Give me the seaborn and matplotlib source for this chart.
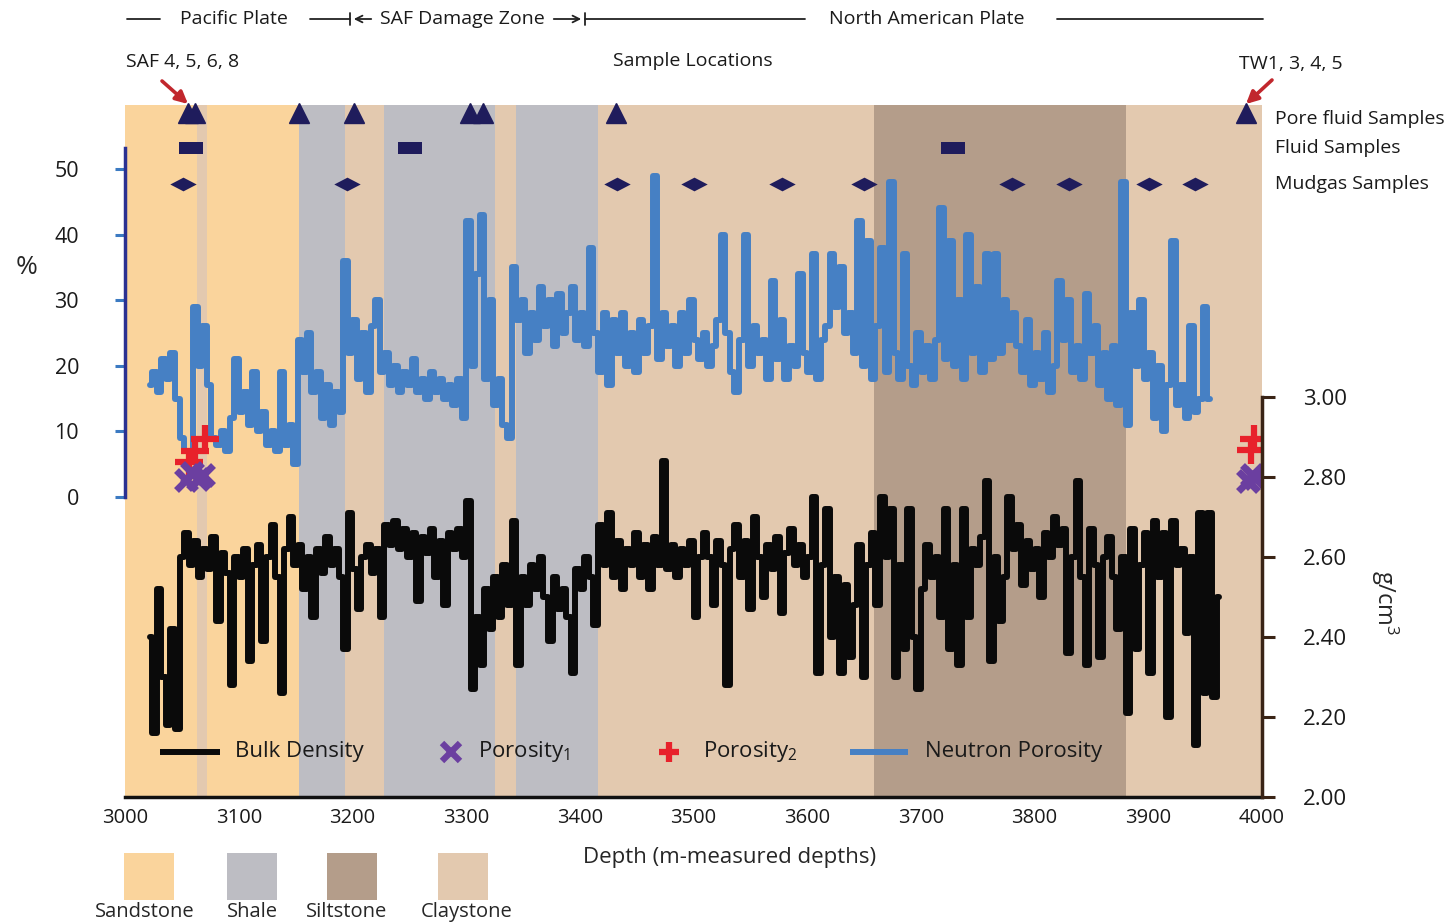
import numpy as np
import matplotlib
matplotlib.use("Agg")
import matplotlib.pyplot as plt
import matplotlib.transforms as mtransforms
from matplotlib.patches import Rectangle
from matplotlib.lines import Line2D
import seaborn as sns

sns.set_theme(style="white")
plt.rcParams['font.family'] = ['Open Sans', 'DejaVu Sans']
plt.rcParams['mathtext.fontset'] = 'custom'
plt.rcParams['mathtext.rm'] = 'Open Sans'
plt.rcParams['mathtext.it'] = 'Open Sans:italic'

# ---------------- data ----------------
litho_start = [3000, 3063, 3072, 3153, 3193.5, 3228, 3325, 3344, 3416, 3659, 3880]
litho_end = [3063, 3072, 3153, 3193.5, 3228, 3325, 3344, 3416, 3659, 3880, 4000]
litho_type = ["Sandstone", "Claystone", "Sandstone", "Shale", "Claystone", "Shale",
              "Claystone", "Shale", "Claystone", "Siltstone", "Claystone"]
litho_names = ["Sandstone", "Shale", "Siltstone", "Claystone"]
litho_colors = {"Sandstone": "#FAD49C", "Shale": "#BDBDC3",
                "Siltstone": "#B49D8A", "Claystone": "#E3C9AF"}

neutron_start, neutron_step = 3022, 4
neutron_pct = [
    17, 19, 16, 21, 18, 22, 15, 9, 7, 6, 29, 20, 26, 17, 9, 8, 10, 7, 12, 21,
    13, 16, 11, 19, 10, 13, 8, 10, 7, 19, 8, 11, 5, 24, 19, 25, 16, 19, 12, 17,
    11, 16, 13, 36, 22, 27, 18, 25, 16, 26, 30, 19, 22, 17, 20, 16, 19, 17, 21, 16,
    18, 15, 19, 16, 18, 15, 17, 14, 18, 12, 42, 20, 34, 43, 18, 30, 14, 18, 11, 9,
    35, 27, 30, 22, 28, 24, 32, 26, 30, 23, 31, 25, 28, 32, 24, 28, 23, 38, 25, 19,
    28, 17, 27, 22, 28, 20, 25, 19, 27, 22, 26, 49, 21, 28, 23, 26, 20, 28, 22, 30,
    24, 21, 25, 20, 23, 27, 40, 25, 19, 16, 24, 40, 20, 26, 22, 24, 18, 33, 21, 27,
    18, 23, 20, 34, 22, 19, 37, 18, 24, 26, 37, 29, 35, 25, 28, 22, 42, 20, 39, 18,
    26, 38, 19, 48, 22, 18, 37, 20, 17, 25, 19, 23, 18, 24, 44, 21, 39, 20, 30, 18,
    40, 22, 32, 19, 37, 21, 37, 22, 30, 24, 28, 23, 19, 27, 17, 22, 18, 25, 16, 20,
    33, 24, 30, 19, 23, 18, 31, 22, 26, 17, 22, 15, 23, 14, 48, 11, 28, 20, 30, 18,
    22, 12, 20, 10, 17, 39, 14, 17, 12, 26, 13, 15, 29, 15]

density_start, density_step = 3022, 4
bulk_density = [
    2.40, 2.16, 2.52, 2.30, 2.18, 2.42, 2.17, 2.60, 2.66, 2.58, 2.64, 2.55, 2.62, 2.57, 2.65, 2.44,
    2.61, 2.56, 2.28, 2.60, 2.55, 2.62, 2.34, 2.58, 2.63, 2.39, 2.60, 2.68, 2.55, 2.26, 2.62, 2.70,
    2.58, 2.63, 2.52, 2.60, 2.45, 2.62, 2.56, 2.65, 2.58, 2.62, 2.55, 2.37, 2.71, 2.57, 2.47, 2.60,
    2.63, 2.56, 2.62, 2.45, 2.68, 2.63, 2.69, 2.62, 2.67, 2.60, 2.66, 2.49, 2.65, 2.61, 2.67, 2.55,
    2.64, 2.48, 2.66, 2.62, 2.67, 2.60, 2.74, 2.27, 2.45, 2.33, 2.52, 2.42, 2.55, 2.45, 2.58, 2.48,
    2.69, 2.33, 2.55, 2.48, 2.58, 2.52, 2.60, 2.50, 2.39, 2.55, 2.47, 2.52, 2.45, 2.31, 2.57, 2.52,
    2.60, 2.55, 2.43, 2.68, 2.58, 2.71, 2.55, 2.64, 2.52, 2.62, 2.58, 2.66, 2.55, 2.63, 2.52, 2.65,
    2.58, 2.84, 2.57, 2.63, 2.55, 2.62, 2.58, 2.64, 2.45, 2.60, 2.66, 2.60, 2.48, 2.64, 2.58, 2.28,
    2.62, 2.68, 2.55, 2.64, 2.47, 2.70, 2.60, 2.50, 2.63, 2.57, 2.65, 2.46, 2.61, 2.67, 2.58, 2.63,
    2.55, 2.60, 2.75, 2.31, 2.58, 2.72, 2.40, 2.55, 2.31, 2.53, 2.35, 2.48, 2.63, 2.30, 2.58, 2.66,
    2.48, 2.75, 2.60, 2.72, 2.30, 2.58, 2.37, 2.72, 2.40, 2.27, 2.52, 2.63, 2.55, 2.60, 2.45, 2.72,
    2.37, 2.58, 2.33, 2.72, 2.45, 2.62, 2.58, 2.65, 2.79, 2.34, 2.60, 2.44, 2.55, 2.75, 2.62, 2.68,
    2.53, 2.64, 2.57, 2.62, 2.50, 2.66, 2.60, 2.70, 2.63, 2.67, 2.36, 2.60, 2.79, 2.55, 2.33, 2.67,
    2.58, 2.35, 2.60, 2.65, 2.55, 2.42, 2.60, 2.21, 2.67, 2.37, 2.58, 2.66, 2.31, 2.69, 2.55, 2.66,
    2.20, 2.69, 2.58, 2.62, 2.41, 2.60, 2.13, 2.71, 2.26, 2.71, 2.25, 2.50]

porosity1_depth = [3054, 3059, 3064, 3069, 3988, 3991, 3994]
porosity1_pct = [2.6, 3.6, 2.8, 3.3, 2.4, 3.4, 2.9]
porosity2_depth = [3056, 3062, 3070, 3990, 3993]
porosity2_pct = [5.3, 7.0, 8.8, 7.2, 8.8]

pore_fluid_depth = [3055, 3062, 3153, 3201, 3303, 3315, 3432, 3986]
fluid_depth = [3058, 3251, 3728]
mudgas_depth = [3051, 3195, 3433, 3500, 3578, 3650, 3780, 3830, 3901, 3941]

legend_labels = ["Bulk Density", "Porosity$_1$", "Porosity$_2$", "Neutron Porosity"]

# ---------------- figure ----------------
W, H = 1447, 923
fig = plt.figure(figsize=(W / 100, H / 100), dpi=100)
x0, x1, ytop, ybot = 125, 1262, 105, 797
ax = fig.add_axes([x0 / W, 1 - ybot / H, (x1 - x0) / W, (ybot - ytop) / H])
ax2 = ax.twinx()
ax.set_xlim(3000, 4000)
pct_per_px = 50 / 328.0
ax.set_ylim(-(ybot - 497) * pct_per_px, (497 - ytop) * pct_per_px)
ax2.set_ylim(2.0, 2.0 + (ybot - ytop) / 400.0)
ax.patch.set_alpha(0)
fig.patch.set_facecolor("white")

def px2d(px):
    return 3000 + (px - x0) * 1000.0 / (x1 - x0)

def fy(py):
    return 1 - py / H

for s, e, t in zip(litho_start, litho_end, litho_type):
    ax.axvspan(s, e, color=litho_colors[t], lw=0, zorder=0)

navy = "#1F1C5C"
blue = "#4680C4"
black = "#0A0A0A"
purple = "#6B3FA0"
red = "#E8212B"
depth_n = neutron_start + neutron_step * np.arange(len(neutron_pct))
depth_d = density_start + density_step * np.arange(len(bulk_density))
sns.lineplot(x=depth_n, y=neutron_pct, ax=ax, color=blue, lw=4.3, estimator=None,
             sort=False, legend=False, zorder=3, drawstyle="steps-mid")
sns.lineplot(x=depth_d, y=bulk_density, ax=ax2, color=black, lw=4.3, estimator=None,
             sort=False, legend=False, zorder=3, drawstyle="steps-mid")

ax.plot(porosity2_depth, porosity2_pct, ls="none", marker="+", ms=20, mew=4.5,
        color=red, zorder=6)
ax.plot(porosity1_depth, porosity1_pct, ls="none", marker="x", ms=15, mew=5,
        color=purple, zorder=7)

y_tri = (497 - 113) * pct_per_px
y_rect = (497 - 148) * pct_per_px
y_dia = (497 - 184) * pct_per_px
rect_marker = [(-1, -0.55), (1, -0.55), (1, 0.55), (-1, 0.55), (-1, -0.55)]
dia_marker = [(-1, 0), (0, 0.52), (1, 0), (0, -0.52), (-1, 0)]
ax.plot(pore_fluid_depth, [y_tri] * len(pore_fluid_depth), ls="none", marker="^",
        ms=15, color=navy, zorder=6, clip_on=False)
ax.plot(fluid_depth, [y_rect] * len(fluid_depth), ls="none", marker=rect_marker,
        ms=17, color=navy, mew=0, zorder=6)
ax.plot(mudgas_depth, [y_dia] * len(mudgas_depth), ls="none", marker=dia_marker,
        ms=19, color=navy, mew=0, zorder=6)

# spines & ticks
for sp in ["top", "right"]:
    ax.spines[sp].set_visible(False)
for sp in ["top", "left", "bottom"]:
    ax2.spines[sp].set_visible(False)
ax.spines["left"].set_bounds(0, (497 - 148) * pct_per_px)
ax.spines["left"].set_color("#2B3192")
ax.spines["left"].set_linewidth(2.5)
ax.spines["bottom"].set_color("#111111")
ax.spines["bottom"].set_linewidth(2.5)
ax2.spines["right"].set_bounds(2.0, 3.0)
ax2.spines["right"].set_color("#3A2416")
ax2.spines["right"].set_linewidth(2.5)

ax.set_yticks([0, 10, 20, 30, 40, 50])
ax.tick_params(axis="y", direction="out", length=7, width=2.2, color="#3B7AC2",
               pad=26, labelsize=15.5, labelcolor="#1a1a1a")
ax.set_xticks(range(3000, 4001, 100))
ax.tick_params(axis="x", direction="in", length=9, width=1.3, color="#6E5E50",
               pad=8, labelsize=14.5, labelcolor="#1a1a1a")
ax2.set_yticks([2.0, 2.2, 2.4, 2.6, 2.8, 3.0])
ax2.set_yticklabels([f"{v:.2f}" for v in [2.0, 2.2, 2.4, 2.6, 2.8, 3.0]])
ax2.tick_params(axis="y", direction="out", length=9.5, width=2.2, color="#3A2416",
                pad=20, labelsize=16, labelcolor="#1a1a1a")
ax.set_xlabel("")
ax.set_ylabel("")
ax2.set_ylabel("")
ax.grid(False)
ax2.grid(False)

# axis labels
fig.text(27 / W, fy(267), "%", fontsize=19, ha="center", va="center")
fig.text(1385 / W, fy(603), "g/cm$^3$", fontsize=17, ha="center", va="center",
         rotation=-90)
fig.text(730 / W, fy(858), "Depth (m-measured depths)", fontsize=16,
         ha="center", va="center")

trans = mtransforms.blended_transform_factory(ax.transData, fig.transFigure)

# legend (drawn in the plot, bottom row)
yl = fy(752)
lkw = dict(transform=trans, clip_on=False, zorder=8)
ax.plot([px2d(160), px2d(220)], [yl, yl], color=black, lw=4.3, solid_capstyle="butt", **lkw)
ax.plot([px2d(451)], [yl], ls="none", marker="x", ms=13, mew=4.5, color=purple, **lkw)
ax.plot([px2d(669)], [yl], ls="none", marker="+", ms=15, mew=4.5, color=red, **lkw)
ax.plot([px2d(850), px2d(908)], [yl, yl], color=blue, lw=4.3, solid_capstyle="butt", **lkw)
tkw = dict(fontsize=16, ha="left", va="center", transform=trans, color="#1a1a1a", zorder=8)
for px, lab in zip([235, 478, 703, 925], legend_labels):
    ax.text(px2d(px), yl, lab, **tkw)

# header
yh = fy(19)
kw = dict(color="#222222", lw=1.3, transform=trans, clip_on=False)
fig.add_artist(Line2D([px2d(127), px2d(160)], [yh, yh], **kw))
fig.add_artist(Line2D([px2d(310), px2d(350)], [yh, yh], **kw))
fig.add_artist(Line2D([px2d(350), px2d(350)], [yh - 0.007, yh + 0.007], **kw))
fig.add_artist(Line2D([px2d(585), px2d(585)], [yh - 0.007, yh + 0.007], **kw))
fig.add_artist(Line2D([px2d(585), px2d(805)], [yh, yh], **kw))
fig.add_artist(Line2D([px2d(1057), px2d(1263)], [yh, yh], **kw))
arrkw = dict(arrowstyle="->", color="#222222", lw=1.3, mutation_scale=12)
ax.annotate("", xy=(px2d(351), yh), xytext=(px2d(374), yh), xycoords=trans,
            textcoords=trans, arrowprops=arrkw, annotation_clip=False)
ax.annotate("", xy=(px2d(584), yh), xytext=(px2d(551), yh), xycoords=trans,
            textcoords=trans, arrowprops=arrkw, annotation_clip=False)
hkw = dict(fontsize=14, ha="center", va="center", transform=trans, color="#1a1a1a")
ax.text(px2d(234), yh, "Pacific Plate", **hkw)
ax.text(px2d(462), yh, "SAF Damage Zone", **hkw)
ax.text(px2d(927), yh, "North American Plate", **hkw)
ax.text(px2d(693), fy(61), "Sample Locations", **hkw)
ax.text(px2d(183), fy(62), "SAF 4, 5, 6, 8", **hkw)
ax.text(px2d(1291), fy(64), "TW1, 3, 4, 5", **hkw)
red_arrow = dict(arrowstyle="-|>", color="#C1272D", lw=2.6, mutation_scale=18,
                 shrinkA=0, shrinkB=0)
ax.annotate("", xy=(px2d(188), fy(104)), xytext=(px2d(162), fy(81)), xycoords=trans,
            textcoords=trans, arrowprops=red_arrow, annotation_clip=False)
ax.annotate("", xy=(px2d(1246), fy(104)), xytext=(px2d(1272), fy(80)), xycoords=trans,
            textcoords=trans, arrowprops=red_arrow, annotation_clip=False)

rkw = dict(fontsize=14, ha="left", va="center", transform=trans, color="#1a1a1a")
ax.text(px2d(1275), fy(119), "Pore fluid Samples", **rkw)
ax.text(px2d(1275), fy(148), "Fluid Samples", **rkw)
ax.text(px2d(1275), fy(184), "Mudgas Samples", **rkw)

# lithology key
key_x = [124, 227, 327, 438]
label_cx = [145, 252, 347, 467]
for name, kx, cx in zip(litho_names, key_x, label_cx):
    fig.add_artist(Rectangle((kx / W, fy(900)), 50 / W, 47 / H,
                             transform=fig.transFigure, color=litho_colors[name], lw=0))
    fig.text(cx / W, fy(912), name, fontsize=14.5, ha="center", va="center")

fig.savefig("out.png", dpi=100)
